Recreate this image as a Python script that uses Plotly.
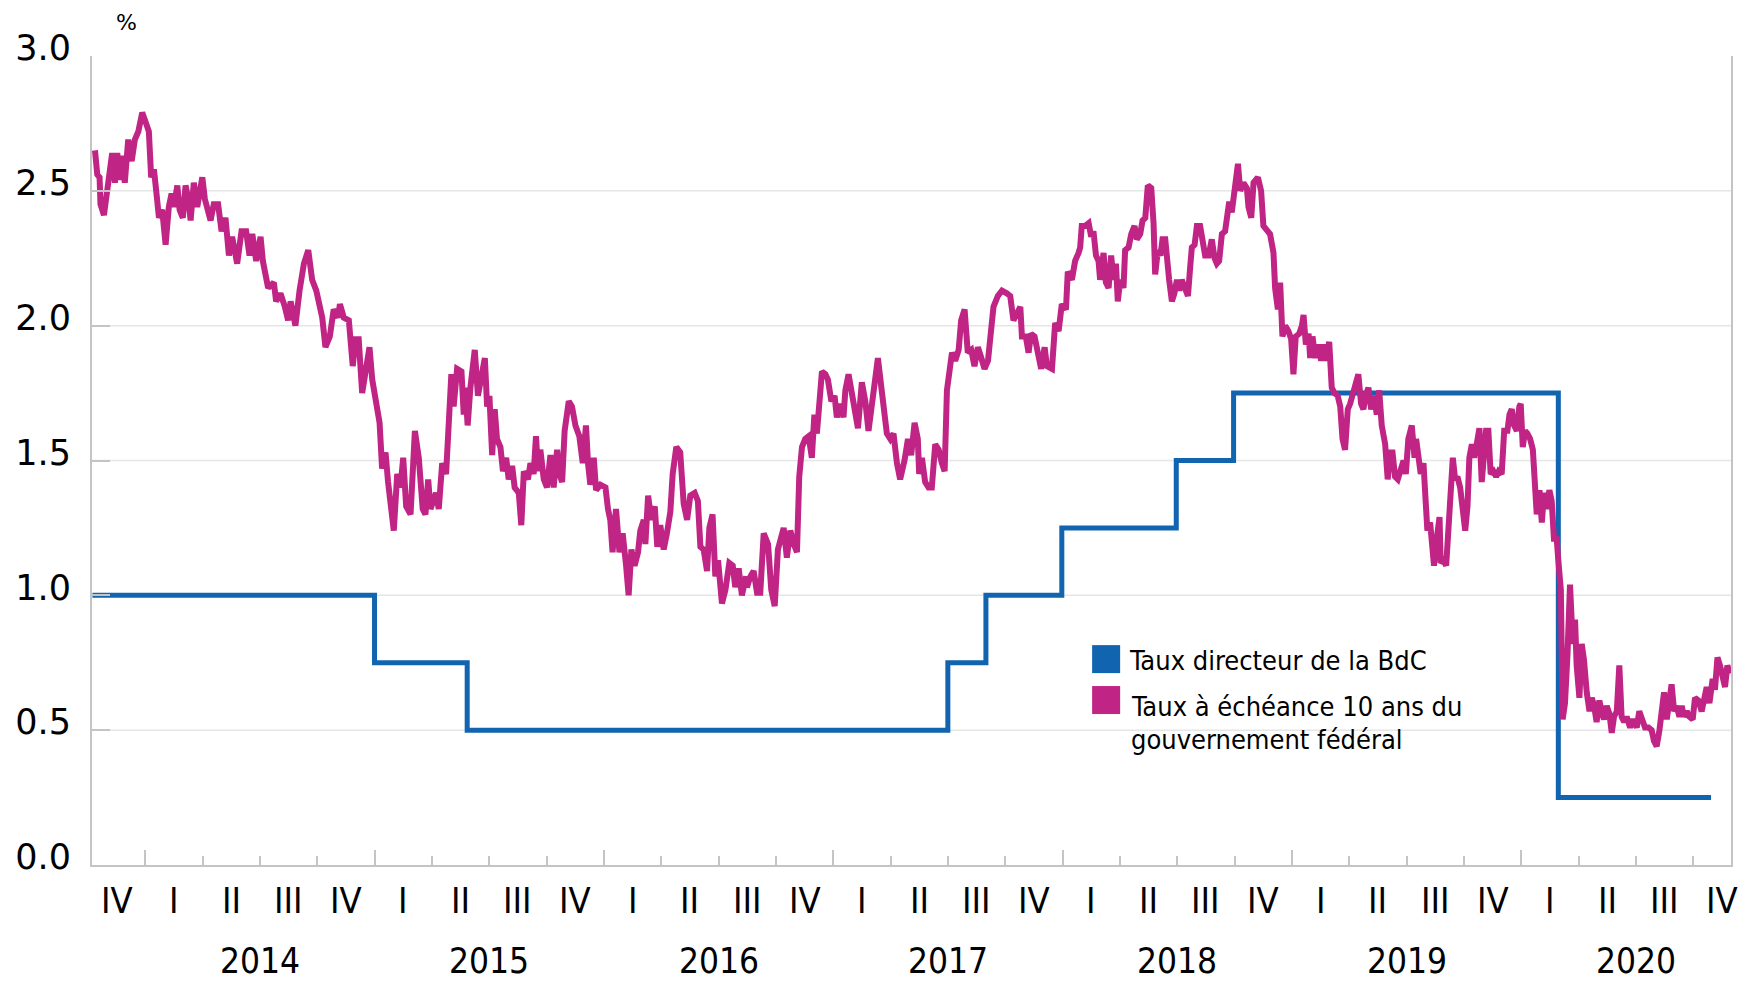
import plotly.graph_objects as go

# ---------------------------------------------------------------------------
# Data (x values are decimal years)
# ---------------------------------------------------------------------------

# Taux directeur de la BdC (step series)
POLICY_T = [2013.770, 2015.000, 2015.404, 2017.500, 2017.666, 2017.997, 2018.496, 2018.746, 2020.162, 2020.828]
POLICY_V = [1.00, 0.75, 0.50, 0.75, 1.00, 1.25, 1.50, 1.75, 0.25, 0.25]

# Taux a echeance 10 ans du gouvernement federal
YIELD_T = [
    2013.781, 2013.791, 2013.801, 2013.805, 2013.820, 2013.834, 2013.842, 2013.856, 2013.868, 2013.878,
    2013.890, 2013.900, 2013.911, 2013.926, 2013.941, 2013.955, 2013.970, 2013.987, 2014.004, 2014.016,
    2014.026, 2014.038, 2014.048, 2014.060, 2014.074, 2014.089, 2014.103, 2014.115, 2014.125, 2014.140,
    2014.150, 2014.164, 2014.176, 2014.188, 2014.198, 2014.212, 2014.227, 2014.249, 2014.260, 2014.285,
    2014.299, 2014.318, 2014.333, 2014.350, 2014.365, 2014.379, 2014.401, 2014.420, 2014.440, 2014.455,
    2014.467, 2014.484, 2014.503, 2014.513, 2014.536, 2014.561, 2014.571, 2014.590, 2014.609, 2014.623,
    2014.634, 2014.655, 2014.673, 2014.692, 2014.711, 2014.728, 2014.746, 2014.757, 2014.772, 2014.786,
    2014.805, 2014.822, 2014.841, 2014.849, 2014.866, 2014.888, 2014.905, 2014.917, 2014.931, 2014.946,
    2014.961, 2014.978, 2014.990, 2015.007, 2015.022, 2015.033, 2015.048, 2015.059, 2015.074, 2015.084,
    2015.099, 2015.113, 2015.125, 2015.138, 2015.157, 2015.176, 2015.193,
    2015.210, 2015.222, 2015.234, 2015.244, 2015.258, 2015.268, 2015.280, 2015.295, 2015.312, 2015.321,
    2015.335, 2015.345, 2015.360, 2015.379, 2015.389, 2015.396, 2015.406, 2015.418, 2015.437, 2015.451,
    2015.466, 2015.481, 2015.491, 2015.501, 2015.513, 2015.524, 2015.534, 2015.549, 2015.560, 2015.574,
    2015.585, 2015.600, 2015.611, 2015.629, 2015.640, 2015.651, 2015.669, 2015.680, 2015.694, 2015.704,
    2015.713, 2015.723, 2015.738, 2015.752, 2015.767, 2015.781, 2015.796, 2015.806, 2015.818, 2015.829,
    2015.847, 2015.861, 2015.876, 2015.893, 2015.908, 2015.922, 2015.931, 2015.941, 2015.956, 2015.966,
    2015.985, 2016.007, 2016.018, 2016.028, 2016.038, 2016.053, 2016.068, 2016.082, 2016.097, 2016.108,
    2016.120, 2016.134, 2016.149, 2016.159, 2016.174, 2016.181, 2016.193, 2016.207, 2016.222, 2016.233,
    2016.246, 2016.261, 2016.275, 2016.290, 2016.300, 2016.316, 2016.333, 2016.348, 2016.363, 2016.377,
    2016.396, 2016.410, 2016.421, 2016.435, 2016.450, 2016.460, 2016.474, 2016.486, 2016.498, 2016.515,
    2016.530, 2016.547, 2016.562, 2016.573, 2016.588, 2016.602, 2016.620,
    2016.624, 2016.639, 2016.653, 2016.668, 2016.682, 2016.697, 2016.716, 2016.730, 2016.745, 2016.759,
    2016.774, 2016.784, 2016.798, 2016.813, 2016.828, 2016.842, 2016.852, 2016.864, 2016.878, 2016.893,
    2016.907, 2016.918, 2016.929, 2016.939, 2016.951, 2016.966, 2016.977, 2016.992, 2017.006, 2017.016,
    2017.031, 2017.045, 2017.053, 2017.067, 2017.082, 2017.093, 2017.108, 2017.125, 2017.140, 2017.154,
    2017.169, 2017.183, 2017.195, 2017.213, 2017.224, 2017.234, 2017.249, 2017.263, 2017.278, 2017.292,
    2017.311, 2017.326, 2017.340, 2017.355, 2017.369, 2017.375, 2017.387, 2017.401, 2017.416, 2017.430,
    2017.445, 2017.460, 2017.474, 2017.486, 2017.496, 2017.506, 2017.518, 2017.532, 2017.547, 2017.558,
    2017.573, 2017.587, 2017.602, 2017.616, 2017.631, 2017.646, 2017.660, 2017.675, 2017.685, 2017.699,
    2017.718, 2017.736, 2017.757, 2017.772, 2017.786, 2017.801, 2017.816, 2017.823, 2017.840, 2017.852,
    2017.863, 2017.878, 2017.893, 2017.907, 2017.922, 2017.932, 2017.954, 2017.968, 2017.983, 2017.997,
    2018.015, 2018.023, 2018.041, 2018.055, 2018.070,
    2018.077, 2018.084, 2018.099, 2018.114, 2018.125, 2018.135, 2018.146, 2018.157, 2018.164, 2018.179,
    2018.189, 2018.201, 2018.212, 2018.223, 2018.233, 2018.241, 2018.252, 2018.266, 2018.273, 2018.288,
    2018.300, 2018.314, 2018.324, 2018.339, 2018.349, 2018.361, 2018.372, 2018.387, 2018.397, 2018.404,
    2018.416, 2018.427, 2018.436, 2018.448, 2018.455, 2018.465, 2018.477, 2018.488, 2018.499, 2018.509,
    2018.520, 2018.532, 2018.547, 2018.557, 2018.564, 2018.576, 2018.586, 2018.600, 2018.610, 2018.622,
    2018.637, 2018.651, 2018.663, 2018.673, 2018.683, 2018.695, 2018.709, 2018.717, 2018.727, 2018.738,
    2018.750, 2018.765, 2018.775, 2018.789, 2018.804, 2018.811, 2018.823, 2018.833, 2018.852, 2018.866,
    2018.876, 2018.891, 2018.905, 2018.920, 2018.927, 2018.939, 2018.949, 2018.959, 2018.971, 2018.985,
    2018.997, 2019.007, 2019.017, 2019.032, 2019.044, 2019.051, 2019.061, 2019.073, 2019.080, 2019.090,
    2019.102, 2019.113, 2019.128, 2019.138, 2019.148, 2019.163, 2019.174, 2019.186, 2019.200, 2019.211,
    2019.221, 2019.232, 2019.244, 2019.254, 2019.269, 2019.279, 2019.290, 2019.302, 2019.312, 2019.322,
    2019.334, 2019.346, 2019.360, 2019.370, 2019.381, 2019.392, 2019.407, 2019.418, 2019.429, 2019.439,
    2019.450, 2019.462, 2019.472, 2019.487, 2019.497, 2019.508, 2019.523, 2019.535,
    2019.542, 2019.552, 2019.562, 2019.574, 2019.581, 2019.591, 2019.603, 2019.610, 2019.620, 2019.632,
    2019.644, 2019.649, 2019.661, 2019.673, 2019.683, 2019.690, 2019.702, 2019.712, 2019.722, 2019.734,
    2019.745, 2019.756, 2019.766, 2019.774, 2019.785, 2019.795, 2019.806, 2019.818, 2019.828, 2019.838,
    2019.847, 2019.857, 2019.867, 2019.879, 2019.891, 2019.902, 2019.915, 2019.926, 2019.940, 2019.949,
    2019.959, 2019.969, 2019.981, 2019.992, 2019.998, 2020.007, 2020.017, 2020.027, 2020.039, 2020.051,
    2020.061, 2020.068, 2020.080, 2020.090, 2020.100, 2020.112, 2020.123, 2020.133, 2020.143, 2020.155,
    2020.162, 2020.173, 2020.181, 2020.191, 2020.202, 2020.213, 2020.225, 2020.235, 2020.242, 2020.254,
    2020.264, 2020.274, 2020.286, 2020.298, 2020.308, 2020.318, 2020.329, 2020.341, 2020.351, 2020.361,
    2020.373, 2020.385, 2020.395, 2020.405, 2020.417, 2020.428, 2020.438, 2020.449, 2020.460, 2020.475,
    2020.489, 2020.504, 2020.515, 2020.526, 2020.540, 2020.555, 2020.569, 2020.579, 2020.591, 2020.603,
    2020.613, 2020.623, 2020.635, 2020.646, 2020.656, 2020.667, 2020.678, 2020.690, 2020.700, 2020.710,
    2020.722, 2020.733, 2020.748, 2020.758, 2020.773, 2020.787, 2020.797, 2020.809, 2020.821, 2020.835,
    2020.845, 2020.856, 2020.867, 2020.879, 2020.889, 2020.899, 2020.911,
]
YIELD_V = [
    2.65, 2.56, 2.55, 2.45, 2.41, 2.50, 2.54, 2.64, 2.53, 2.64,
    2.54, 2.63, 2.53, 2.69, 2.61, 2.69, 2.72, 2.79, 2.75, 2.72,
    2.55, 2.58, 2.50, 2.40, 2.43, 2.30, 2.44, 2.49, 2.44, 2.52,
    2.43, 2.40, 2.52, 2.47, 2.39, 2.53, 2.44, 2.55, 2.47, 2.39,
    2.45, 2.45, 2.35, 2.40, 2.26, 2.33, 2.23, 2.35, 2.35, 2.26,
    2.34, 2.24, 2.33, 2.24, 2.14, 2.16, 2.09, 2.12, 2.07, 2.02,
    2.09, 2.00, 2.13, 2.23, 2.28, 2.17, 2.13, 2.08, 2.03, 1.92,
    1.96, 2.06, 2.03, 2.08, 2.03, 2.02, 1.85, 1.95, 1.95, 1.75,
    1.82, 1.92, 1.80, 1.70, 1.64, 1.47, 1.53, 1.42, 1.33, 1.24,
    1.45, 1.40, 1.51, 1.33, 1.30, 1.61, 1.51,
    1.32, 1.30, 1.43, 1.32, 1.35, 1.38, 1.32, 1.49, 1.45, 1.58,
    1.82, 1.70, 1.84, 1.83, 1.67, 1.77, 1.63, 1.77, 1.91, 1.74,
    1.82, 1.88, 1.70, 1.74, 1.52, 1.69, 1.58, 1.55, 1.46, 1.51,
    1.43, 1.48, 1.40, 1.38, 1.26, 1.46, 1.43, 1.49, 1.45, 1.59,
    1.46, 1.54, 1.43, 1.40, 1.52, 1.40, 1.54, 1.45, 1.42, 1.61,
    1.72, 1.70, 1.63, 1.59, 1.49, 1.63, 1.49, 1.41, 1.51, 1.39,
    1.41, 1.40, 1.32, 1.28, 1.16, 1.32, 1.16, 1.23, 1.11, 1.00,
    1.17, 1.11, 1.16, 1.24, 1.28, 1.19, 1.37, 1.28, 1.33, 1.18,
    1.26, 1.17, 1.23, 1.31, 1.45, 1.55, 1.53, 1.34, 1.28, 1.37,
    1.38, 1.35, 1.18, 1.17, 1.09, 1.25, 1.30, 1.07, 1.13, 0.97,
    1.02, 1.12, 1.11, 1.03, 1.10, 1.00, 1.07,
    1.03, 1.07, 1.09, 1.01, 1.01, 1.23, 1.19, 1.02, 0.96, 1.17,
    1.21, 1.25, 1.14, 1.24, 1.19, 1.16, 1.44, 1.55, 1.58, 1.59,
    1.51, 1.67, 1.60, 1.74, 1.83, 1.82, 1.80, 1.72, 1.74, 1.66,
    1.71, 1.66, 1.76, 1.82, 1.75, 1.72, 1.62, 1.79, 1.72, 1.61,
    1.71, 1.81, 1.88, 1.75, 1.69, 1.60, 1.58, 1.60, 1.49, 1.43,
    1.50, 1.58, 1.52, 1.64, 1.58, 1.45, 1.51, 1.42, 1.40, 1.40,
    1.56, 1.54, 1.49, 1.46, 1.76, 1.85, 1.90, 1.87, 1.91, 2.02,
    2.06, 1.90, 1.91, 1.85, 1.92, 1.88, 1.84, 1.87, 1.95, 2.07,
    2.11, 2.13, 2.12, 2.11, 2.02, 2.04, 2.07, 1.96, 1.96, 1.90,
    1.97, 1.96, 1.90, 1.84, 1.92, 1.85, 1.84, 2.01, 1.98, 2.08,
    2.06, 2.20, 2.17, 2.24, 2.27,
    2.29, 2.37, 2.37, 2.38, 2.33, 2.35, 2.26, 2.24, 2.17, 2.27,
    2.16, 2.14, 2.26, 2.17, 2.23, 2.09, 2.17, 2.14, 2.28, 2.29,
    2.34, 2.37, 2.32, 2.34, 2.39, 2.40, 2.52, 2.51, 2.38, 2.19,
    2.28, 2.26, 2.32, 2.32, 2.22, 2.17, 2.09, 2.12, 2.17, 2.13,
    2.17, 2.14, 2.11, 2.22, 2.29, 2.30, 2.37, 2.37, 2.30, 2.26,
    2.26, 2.32, 2.25, 2.23, 2.24, 2.34, 2.35, 2.42, 2.46, 2.42,
    2.50, 2.60, 2.50, 2.53, 2.51, 2.44, 2.40, 2.53, 2.55, 2.50,
    2.37, 2.35, 2.34, 2.27, 2.14, 2.06, 2.16, 1.96, 2.00, 1.98,
    1.95, 1.82, 1.96, 1.97, 2.00, 2.04, 1.93, 1.97, 1.88, 1.96,
    1.88, 1.93, 1.87, 1.93, 1.87, 1.94, 1.77, 1.75, 1.74, 1.70,
    1.58, 1.54, 1.69, 1.71, 1.75, 1.79, 1.82, 1.71, 1.69, 1.74,
    1.77, 1.69, 1.74, 1.67, 1.76, 1.63, 1.56, 1.43, 1.53, 1.53,
    1.44, 1.43, 1.46, 1.50, 1.45, 1.58, 1.63, 1.51,
    1.58, 1.50, 1.45, 1.49, 1.38, 1.24, 1.27, 1.21, 1.11, 1.21,
    1.29, 1.12, 1.13, 1.11, 1.25, 1.43, 1.51, 1.43, 1.44, 1.40,
    1.30, 1.24, 1.33, 1.51, 1.56, 1.51, 1.56, 1.62, 1.42, 1.55,
    1.61, 1.61, 1.45, 1.46, 1.44, 1.46, 1.45, 1.61, 1.61, 1.67,
    1.69, 1.63, 1.61, 1.70, 1.71, 1.55, 1.61, 1.60, 1.58, 1.54,
    1.38, 1.30, 1.39, 1.27, 1.38, 1.32, 1.39, 1.35, 1.21, 1.21,
    1.13, 1.02, 0.54, 0.60, 0.78, 1.04, 0.82, 0.91, 0.74, 0.62,
    0.82, 0.76, 0.64, 0.57, 0.62, 0.59, 0.53, 0.61, 0.57, 0.54,
    0.59, 0.56, 0.49, 0.55, 0.57, 0.74, 0.55, 0.53, 0.55, 0.51,
    0.54, 0.51, 0.57, 0.54, 0.51, 0.51, 0.50, 0.46, 0.44, 0.50,
    0.59, 0.64, 0.54, 0.60, 0.67, 0.57, 0.59, 0.55, 0.59, 0.55,
    0.57, 0.55, 0.54, 0.62, 0.61, 0.57, 0.62, 0.66, 0.60, 0.69,
    0.65, 0.77, 0.74, 0.69, 0.66, 0.74, 0.71,
]

YEARS = [2014, 2015, 2016, 2017, 2018, 2019, 2020]
QUARTER_NAMES = ["I", "II", "III", "IV"]
Y_TICKS = [0.0, 0.5, 1.0, 1.5, 2.0, 2.5, 3.0]
GRID_LEVELS = [0.5, 1.0, 1.5, 2.0, 2.5]

LABEL_POLICY = "Taux directeur de la BdC"
LABEL_YIELD = ["Taux à échéance 10 ans du", "gouvernement fédéral"]

# ---------------------------------------------------------------------------
# Style
# ---------------------------------------------------------------------------
BLUE = "#1064b0"
MAGENTA = "#c02485"
AXIS_GREY = "#c4c4c4"
GRID_GREY = "#e6e6e6"

FONT_Y = "DejaVu Sans"
FONT_X = "DejaVu Sans Condensed, DejaVu Sans, sans-serif"
FONT_LEGEND = "DejaVu Sans Condensed, DejaVu Sans, sans-serif"

X_RANGE = [2013.768, 2020.915]

fig = go.Figure()

fig.add_trace(go.Scatter(
    x=POLICY_T, y=POLICY_V, mode="lines", line_shape="hv",
    line=dict(color=BLUE, width=5), name=LABEL_POLICY, hoverinfo="x+y",
))
fig.add_trace(go.Scatter(
    x=YIELD_T, y=YIELD_V, mode="lines",
    line=dict(color=MAGENTA, width=6), name=" ".join(LABEL_YIELD), hoverinfo="x+y",
))

# horizontal grid lines (none at the top of the frame)
for level in GRID_LEVELS:
    fig.add_shape(type="line", xref="paper", yref="y", x0=0, x1=1, y0=level, y1=level,
                  line=dict(color=GRID_GREY, width=1.5), layer="below")

# quarter / year tick marks
year_ticks = YEARS
quarter_ticks = [y + q / 4 for y in [2013] + YEARS for q in (1, 2, 3)]
quarter_ticks = [q for q in quarter_ticks if X_RANGE[0] < q < X_RANGE[1]]

fig.update_xaxes(
    range=X_RANGE, showgrid=False, zeroline=False, automargin=False,
    showline=True, linecolor=AXIS_GREY, linewidth=2,
    tickmode="array", tickvals=year_ticks, ticks="inside", ticklen=15, tickwidth=2, tickcolor=AXIS_GREY,
    showticklabels=False,
    minor=dict(tickmode="array", tickvals=quarter_ticks, ticks="inside", ticklen=9, tickwidth=2,
               tickcolor=AXIS_GREY, showgrid=False),
)
fig.update_yaxes(
    range=[0, 3], showgrid=False, zeroline=False, automargin=False,
    showline=True, linecolor=AXIS_GREY, linewidth=2, mirror=True,
    tickmode="array", tickvals=Y_TICKS, ticktext=[f"{v:.1f}" for v in Y_TICKS],
    ticks="inside", ticklen=18, tickwidth=2, tickcolor=AXIS_GREY,
    tickfont=dict(family=FONT_Y, size=35, color="black"),
    ticklabelstandoff=12, ticklabelshift=-8,
)

# quarter labels (Q4 2013 then each quarter of 2014-2020) and year labels
quarter_pos = [2013.875] + [y + (q + 0.5) / 4 for y in YEARS for q in range(4)]
quarter_txt = ["IV"] + [QUARTER_NAMES[q] for y in YEARS for q in range(4)]
for pos, txt in zip(quarter_pos, quarter_txt):
    fig.add_annotation(x=pos, y=0, xref="x", yref="paper", text=txt, showarrow=False,
                       xanchor="center", yanchor="middle", yshift=-35,
                       font=dict(family=FONT_X, size=36, color="black"))
for y in YEARS:
    fig.add_annotation(x=y + 0.5, y=0, xref="x", yref="paper", text=str(y), showarrow=False,
                       xanchor="center", yanchor="middle", yshift=-96,
                       font=dict(family=FONT_X, size=35, color="black"))

# unit label
fig.add_annotation(x=0, y=1, xref="paper", yref="paper", text="%", showarrow=False,
                   xanchor="center", yanchor="middle", xshift=34, yshift=34,
                   font=dict(family=FONT_Y, size=22, color="black"))

# legend (squares + text)
fig.add_shape(type="rect", xref="paper", yref="paper", x0=0.6102, x1=0.6273, y0=0.2372, y1=0.2718,
              fillcolor=BLUE, line=dict(width=0))
fig.add_shape(type="rect", xref="paper", yref="paper", x0=0.6102, x1=0.6273, y0=0.1866, y1=0.2212,
              fillcolor=MAGENTA, line=dict(width=0))
fig.add_annotation(x=0.6316, y=0.2533, xref="paper", yref="paper", text=LABEL_POLICY, showarrow=False,
                   xanchor="left", yanchor="middle", font=dict(family=FONT_LEGEND, size=27, color="black"))
for txt, ypos in zip(LABEL_YIELD, [0.1965, 0.1557]):
    fig.add_annotation(x=0.6328, y=ypos, xref="paper", yref="paper", text=txt, showarrow=False,
                       xanchor="left", yanchor="middle", font=dict(family=FONT_LEGEND, size=27, color="black"))

# the page body adds an 8 px offset, so the figure is sized to fit the window
fig.update_layout(
    width=1740, height=974,
    margin=dict(l=84, r=17, t=48, b=117),
    paper_bgcolor="white", plot_bgcolor="white",
    showlegend=False,
)

fig.write_html("out.html")
